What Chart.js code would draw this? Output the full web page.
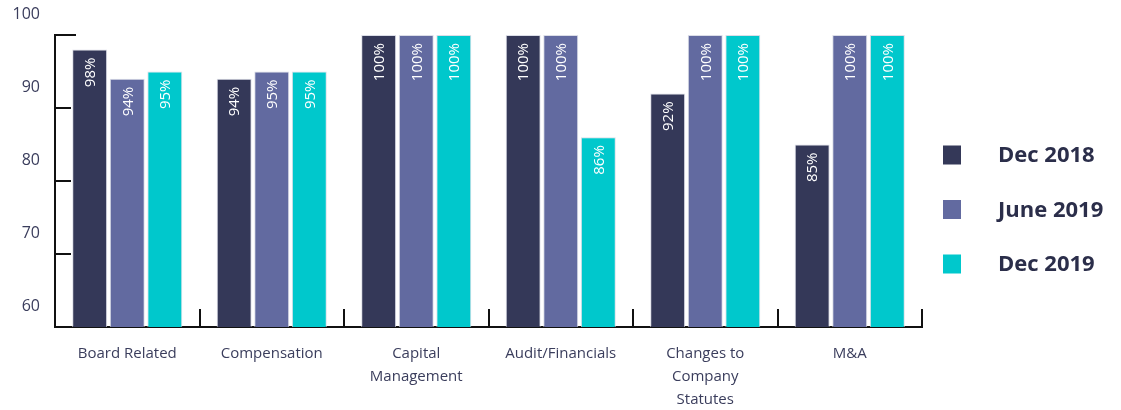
<!DOCTYPE html>
<html><head><meta charset="utf-8">
<script src="https://cdn.jsdelivr.net/npm/chart.js@4"></script>
<style>html,body{margin:0;padding:0;background:#fff}#wrap{width:1121px;height:410px;position:relative}</style>
</head><body><div id="wrap"><canvas id="c"></canvas></div>
<script>
const categories = ['Board Related', 'Compensation', ['Capital', 'Management'], 'Audit/Financials', ['Changes to', 'Company', 'Statutes'], 'M&A'];
const seriesNames = ['Dec 2018', 'June 2019', 'Dec 2019'];
const dec2018 = [98, 94, 100, 100, 92, 85];
const june2019 = [94, 95, 100, 100, 100, 100];
const dec2019 = [95, 95, 100, 86, 100, 100];
const yTicks = [60, 70, 80, 90, 100];
const seriesColors = ['#343858', '#626aa0', '#00c8cc'];

const textColor = '#3a3d5c';
const FONT = "'Open Sans', 'DejaVu Sans', sans-serif";

const valueLabels = {
  id: 'valueLabels',
  afterDatasetsDraw(chart) {
    const ctx = chart.ctx;
    ctx.save();
    ctx.fillStyle = '#ffffff';
    ctx.font = '15px ' + FONT;
    ctx.textAlign = 'right';
    ctx.textBaseline = 'middle';
    chart.data.datasets.forEach((ds, di) => {
      const meta = chart.getDatasetMeta(di);
      meta.data.forEach((bar, i) => {
        ctx.save();
        ctx.translate(bar.x, bar.y + 8);
        ctx.rotate(-Math.PI / 2);
        ctx.fillText(ds.data[i] + '%', 0, 1);
        ctx.restore();
      });
    });
    ctx.restore();
  }
};

const innerTicks = {
  id: 'innerTicks',
  beforeDatasetsDraw(chart) {
    const ctx = chart.ctx;
    const xs = chart.scales.x, ys = chart.scales.y;
    const area = chart.chartArea;
    ctx.save();
    ctx.strokeStyle = '#111111';
    ctx.lineWidth = 2;
    ys.ticks.forEach((t) => {
      const y = Math.round(ys.getPixelForValue(t.value));
      const len = t.value === ys.max ? 21 : 16;
      ctx.beginPath();
      ctx.moveTo(area.left, y);
      ctx.lineTo(area.left + len, y);
      ctx.stroke();
    });
    for (let i = 1; i <= categories.length; i++) {
      const x = Math.round(xs.getPixelForValue(i - 0.5));
      ctx.beginPath();
      ctx.moveTo(x, area.bottom);
      ctx.lineTo(x, area.bottom - 18);
      ctx.stroke();
    }
    ctx.restore();
  }
};

const sideLegend = {
  id: 'sideLegend',
  afterDraw(chart) {
    const ctx = chart.ctx;
    const area = chart.chartArea;
    ctx.save();
    ctx.font = 'bold 22px ' + FONT;
    ctx.textBaseline = 'middle';
    ctx.textAlign = 'left';
    chart.data.datasets.forEach((ds, i) => {
      const cy = 155 + i * 54.5;
      ctx.fillStyle = ds.backgroundColor;
      ctx.fillRect(area.right + 21, cy - 9.5, 18, 19);
      ctx.fillStyle = '#2b2e4a';
      ctx.fillText(ds.label, area.right + 76, cy + 1);
    });
    ctx.restore();
  }
};

const seriesData = [dec2018, june2019, dec2019];

new Chart(document.getElementById('c'), {
  type: 'bar',
  data: {
    labels: categories,
    datasets: seriesNames.map((name, i) => ({
      label: name,
      data: seriesData[i],
      backgroundColor: seriesColors[i],
      borderColor: 'rgba(215,217,228,0.9)',
      borderWidth: 1,
      categoryPercentage: 0.78,
      barPercentage: 0.93
    }))
  },
  options: {
    responsive: true,
    maintainAspectRatio: false,
    animation: false,
    layout: { padding: { left: 12, right: 199, top: 35, bottom: 0 } },
    plugins: { legend: { display: false }, tooltip: { enabled: false } },
    scales: {
      x: {
        grid: { display: false, drawTicks: false },
        border: { display: true, color: '#111111', width: 2 },
        ticks: {
          font: { family: FONT, size: 15, lineHeight: 1.53 },
          color: textColor, padding: 15, maxRotation: 0, autoSkip: false
        },
        afterFit(scale) { scale.height = 83; }
      },
      y: {
        min: 60, max: 100,
        afterBuildTicks(scale) { scale.ticks = yTicks.map(v => ({ value: v })); },
        grid: { display: false, drawTicks: false },
        border: { display: true, color: '#111111', width: 2 },
        ticks: {
          font: { family: FONT, size: 16 },
          color: textColor, padding: 15, labelOffset: -21
        },
        afterFit(scale) { scale.width = 43; }
      }
    }
  },
  plugins: [valueLabels, innerTicks, sideLegend]
});
</script>
</body></html>
